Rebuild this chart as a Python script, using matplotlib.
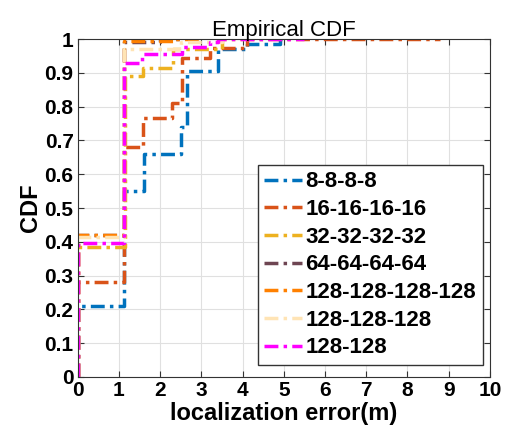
import matplotlib
matplotlib.use("Agg")
import matplotlib.pyplot as plt

plt.rcParams['font.family'] = ['Liberation Sans', 'DejaVu Sans']

# step data (x where the step starts, CDF value after it)
names = ['8-8-8-8', '16-16-16-16', '32-32-32-32', '64-64-64-64',
         '128-128-128-128', '128-128-128', '128-128']
colors = ['#0072BD', '#D95319', '#EDB120', '#6E4552', '#FF8000', '#FFE4B5', '#FF00FF']

x_blue = [0, 1.12, 1.6, 2.5, 2.65, 3.4, 4.1, 4.9, 5.0]
y_blue = [0.21, 0.55, 0.66, 0.74, 0.905, 0.97, 0.985, 1.0, 1.0]
x_red = [0, 1.12, 1.58, 2.28, 2.52, 3.2, 4.1, 8.8]
y_red = [0.28, 0.68, 0.765, 0.81, 0.945, 0.975, 1.0, 1.0]
x_yel = [0, 1.14, 1.58, 2.3, 3.5, 4.0]
y_yel = [0.385, 0.89, 0.915, 0.97, 1.0, 1.0]
x_brn = [0, 1.12, 2.0, 2.5]
y_brn = [0.42, 0.99, 1.0, 1.0]
x_org = [0, 1.12, 2.3, 3.0]
y_org = [0.42, 0.995, 1.0, 1.0]
x_bei = [0, 1.12, 2.5, 3.5, 4.0]
y_bei = [0.415, 0.97, 0.99, 1.0, 1.0]
x_mag = [0, 1.12, 1.55, 2.52, 3.2, 3.4, 5.5]
y_mag = [0.395, 0.93, 0.955, 0.976, 0.99, 1.0, 1.0]

xs = [x_blue, x_red, x_yel, x_brn, x_org, x_bei, x_mag]
ys = [y_blue, y_red, y_yel, y_brn, y_org, y_bei, y_mag]

fig = plt.figure(figsize=(5.05, 4.44), dpi=100)
ax = fig.add_axes([0.154, 0.151, 0.816, 0.761])

for x, y, c, n in zip(xs, ys, colors, names):
    ax.plot([0] + x, [0] + y, drawstyle='steps-post', linestyle='-.',
            color=c, linewidth=2.5, label=n, dashes=(4, 1.5, 1, 1.5))

ax.set_xlim(0, 10)
ax.set_ylim(0, 1)
ax.set_xticks(range(0, 11))
ax.set_yticks([i / 10 for i in range(11)])
ax.set_yticklabels(['0', '0.1', '0.2', '0.3', '0.4', '0.5', '0.6', '0.7', '0.8', '0.9', '1'])
ax.grid(True, color='#e0e0e0', linewidth=0.8)
ax.set_axisbelow(True)
ax.tick_params(direction='in', top=True, right=True, labelsize=15, length=4,
               color='#333333', pad=3)
for lab in ax.get_xticklabels() + ax.get_yticklabels():
    lab.set_fontweight('bold')
for s in ax.spines.values():
    s.set_color('#333333')

ax.set_title('Empirical CDF', fontsize=16, pad=2)
ax.set_xlabel('localization error(m)', fontsize=17, fontweight='bold', labelpad=1)
ax.set_ylabel('CDF', fontsize=17, fontweight='bold', labelpad=2)

leg = ax.legend(loc='lower right', bbox_to_anchor=(0.983, 0.035),
                prop={'weight': 'bold', 'size': 16}, fancybox=False,
                edgecolor='#333333', framealpha=1, handlelength=1.7, handletextpad=0.15,
                labelspacing=0.3, borderaxespad=0, borderpad=0.3)

fig.savefig('out.png', dpi=100)
